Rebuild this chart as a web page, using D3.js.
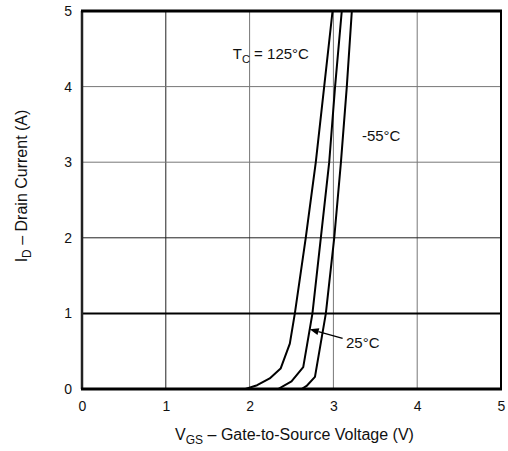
<!DOCTYPE html>
<html>
<head>
  <meta charset="utf-8">
  <title>Transfer Characteristics</title>
  <style>
    body { margin: 0; background: #fff; }
    svg { display: block; font-family: "Liberation Sans", Arial, sans-serif; }
    .tick text { font-size: 14px; fill: #111; }
    .curve { fill: none; stroke: #000; stroke-width: 2px; stroke-linejoin: round; }
    .note { font-size: 15px; fill: #111; }
    .title { font-size: 16px; fill: #111; }
  </style>
</head>
<body>
  <script src="https://d3js.org/d3.v7.min.js"></script>
  <script>
    // values
    const xTicks = [0, 1, 2, 3, 4, 5];
    const yTicks = [0, 1, 2, 3, 4, 5];

    const vgs125 = [1.95, 2.09, 2.24, 2.37, 2.48, 2.54, 2.67, 2.79, 2.89, 2.99];
    const id125  = [0, 0.05, 0.14, 0.27, 0.60, 1.0, 2.0, 3.0, 4.0, 5.0];
    const vgs25  = [2.34, 2.50, 2.64, 2.75, 2.85, 2.95, 3.02, 3.10];
    const id25   = [0, 0.10, 0.29, 1.0, 2.0, 3.0, 4.0, 5.0];
    const vgsM55 = [2.62, 2.68, 2.78, 2.91, 3.01, 3.09, 3.16, 3.22];
    const idM55  = [0, 0.04, 0.16, 1.0, 2.0, 3.0, 4.0, 5.0];

    const width = 508, height = 451;
    const margin = { top: 11, right: 7, bottom: 62, left: 82 };

    const svg = d3.select("body").append("svg")
      .attr("width", width).attr("height", height);

    const x = d3.scaleLinear().domain([0, 5]).range([margin.left, width - margin.right]);
    const y = d3.scaleLinear().domain([0, 5]).range([height - margin.bottom, margin.top]);

    svg.append("clipPath").attr("id", "plot")
      .append("rect")
      .attr("x", x(0)).attr("y", y(5))
      .attr("width", x(5) - x(0)).attr("height", y(0) - y(5));

    // grid (the scan shows some lines darker than others)
    svg.append("g").selectAll("line")
      .data(xTicks.slice(1, -1))
      .join("line")
      .attr("x1", d => x(d)).attr("x2", d => x(d))
      .attr("y1", y(0)).attr("y2", y(5))
      .attr("stroke", d => d === 1 ? "#222" : "#777")
      .attr("stroke-width", 1);

    svg.append("g").selectAll("line")
      .data(yTicks.slice(1, -1))
      .join("line")
      .attr("x1", x(0)).attr("x2", x(5))
      .attr("y1", d => y(d)).attr("y2", d => y(d))
      .attr("stroke", d => d === 1 ? "#000" : d === 2 ? "#222" : "#777")
      .attr("stroke-width", d => d === 1 ? 2 : 1);

    // axes, labels only
    const xAxis = svg.append("g")
      .attr("transform", `translate(0,${y(0)})`)
      .call(d3.axisBottom(x).tickValues(xTicks).tickFormat(d3.format("d")).tickSize(0).tickPadding(12));
    xAxis.select(".domain").remove();

    const yAxis = svg.append("g")
      .attr("transform", `translate(${x(0)},0)`)
      .call(d3.axisLeft(y).tickValues(yTicks).tickFormat(d3.format("d")).tickSize(0).tickPadding(10));
    yAxis.select(".domain").remove();

    // frame
    svg.append("line").attr("x1", x(0)).attr("x2", x(0)).attr("y1", y(0)).attr("y2", y(5))
      .attr("stroke", "#222").attr("stroke-width", 2.5);
    svg.append("line").attr("x1", x(5)).attr("x2", x(5)).attr("y1", y(0)).attr("y2", y(5))
      .attr("stroke", "#000").attr("stroke-width", 2);
    svg.append("line").attr("x1", x(0) - 1).attr("x2", x(5) + 1).attr("y1", y(5)).attr("y2", y(5))
      .attr("stroke", "#000").attr("stroke-width", 3);
    svg.append("line").attr("x1", x(0) - 1).attr("x2", x(5) + 1).attr("y1", y(0)).attr("y2", y(0))
      .attr("stroke", "#000").attr("stroke-width", 3);

    // curves
    const line = d3.line().x(d => x(d[0])).y(d => y(d[1]));
    const series = [
      d3.zip(vgs125, id125),
      d3.zip(vgs25, id25),
      d3.zip(vgsM55, idM55)
    ];
    svg.append("g").attr("clip-path", "url(#plot)")
      .selectAll("path")
      .data(series)
      .join("path")
      .attr("class", "curve")
      .attr("d", line);

    // annotations
    const t1 = svg.append("text").attr("class", "note")
      .attr("x", x(1.80)).attr("y", y(4.37));
    t1.append("tspan").text("T");
    t1.append("tspan").attr("dy", 4).attr("font-size", 11).text("C");
    t1.append("tspan").attr("dy", -4).text(" = 125°C");

    svg.append("text").attr("class", "note")
      .attr("x", x(3.34)).attr("y", y(3.28)).text("-55°C");

    svg.append("text").attr("class", "note")
      .attr("x", x(3.15)).attr("y", y(0.54)).text("25°C");

    // arrow onto the 25°C curve
    const tipI = 0.79;
    const k = d3.bisectLeft(id25, tipI);
    const f = (tipI - id25[k - 1]) / (id25[k] - id25[k - 1]);
    const tipV = vgs25[k - 1] + f * (vgs25[k] - vgs25[k - 1]);
    const tx = x(tipV), ty = y(tipI);
    const sx = x(3.11), sy = y(0.67);
    const ang = Math.atan2(ty - sy, tx - sx);
    const hl = 9, hw = 3.5;
    const bx = tx - Math.cos(ang) * hl, by = ty - Math.sin(ang) * hl;
    svg.append("line")
      .attr("x1", sx).attr("y1", sy).attr("x2", bx).attr("y2", by)
      .attr("stroke", "#000").attr("stroke-width", 1.3);
    svg.append("path")
      .attr("d", `M${tx},${ty}L${bx - Math.sin(ang) * hw},${by + Math.cos(ang) * hw}L${bx + Math.sin(ang) * hw},${by - Math.cos(ang) * hw}Z`)
      .attr("fill", "#000");

    // axis titles
    const xt = svg.append("text").attr("class", "title")
      .attr("x", (x(0) + x(5)) / 2 + 3).attr("y", 440)
      .attr("text-anchor", "middle");
    xt.append("tspan").text("V");
    xt.append("tspan").attr("dy", 4).attr("font-size", 12).text("GS");
    xt.append("tspan").attr("dy", -4).text(" – Gate-to-Source Voltage (V)");

    const yt = svg.append("text").attr("class", "title")
      .attr("transform", `translate(27,${(y(0) + y(5)) / 2 - 14}) rotate(-90)`)
      .attr("text-anchor", "middle");
    yt.append("tspan").text("I");
    yt.append("tspan").attr("dy", 4).attr("font-size", 12).text("D");
    yt.append("tspan").attr("dy", -4).text(" – Drain Current (A)");
  </script>
</body>
</html>
